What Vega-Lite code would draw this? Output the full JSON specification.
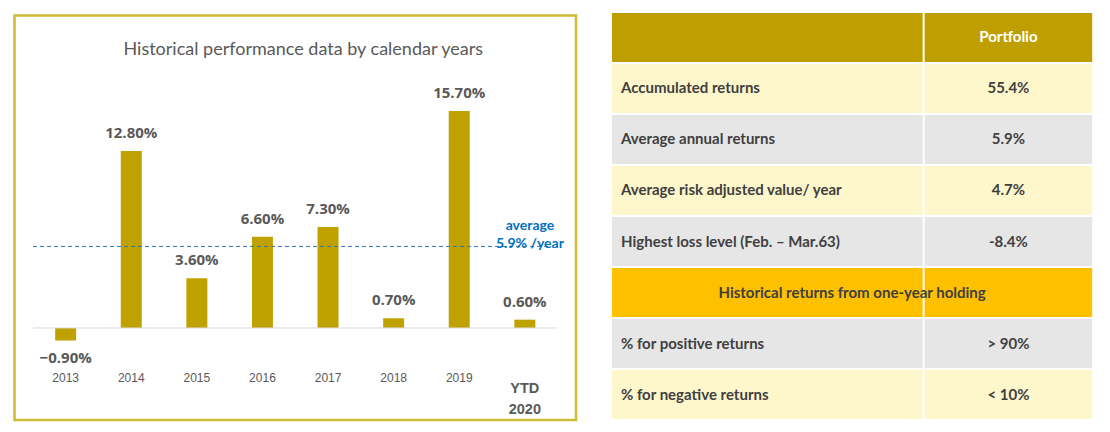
{
  "$schema": "https://vega.github.io/schema/vega-lite/v6.json",
  "autosize": {"type": "fit", "contains": "padding"},
  "width": 1110,
  "height": 432,
  "padding": 0,
  "view": {"stroke": null},
  "data": {
    "values": [
      {"year": "2013", "ret": -0.009},
      {"year": "2014", "ret": 0.128},
      {"year": "2015", "ret": 0.036},
      {"year": "2016", "ret": 0.066},
      {"year": "2017", "ret": 0.073},
      {"year": "2018", "ret": 0.007},
      {"year": "2019", "ret": 0.157},
      {"year": "YTD 2020", "ret": 0.006}
    ]
  },
  "resolve": {"scale": {"x": "independent", "y": "independent"}},
  "layer": [
    {
      "resolve": {"scale": {"x": "independent"}},
      "layer": [
        {
          "encoding": {
            "x": {
              "field": "year", "type": "nominal", "axis": null,
              "scale": {"range": [14.5, 576], "paddingInner": 0.68, "paddingOuter": 0.62}
            },
            "y": {
              "field": "ret", "type": "quantitative", "axis": null,
              "scale": {"domain": [-0.0666, 0.2261], "range": [420, 15.5], "nice": false, "zero": false}
            }
          },
          "layer": [
            {"mark": {"type": "bar", "color": "#BFA200"}},
            {
              "mark": {"type": "text", "font": "Open Sans", "fontSize": 15, "fontWeight": "bold", "color": "#595959", "baseline": "middle", "dy": -18},
              "encoding": {"text": {"condition": {"test": "datum.ret >= 0", "field": "ret", "type": "quantitative", "format": ".2%"}, "value": ""}}
            },
            {
              "mark": {"type": "text", "font": "Open Sans", "fontSize": 15, "fontWeight": "bold", "color": "#595959", "baseline": "middle", "dy": 18},
              "encoding": {"text": {"condition": {"test": "datum.ret < 0", "field": "ret", "type": "quantitative", "format": ".2%"}, "value": ""}}
            },
            {
              "mark": {"type": "text", "font": "Liberation Sans", "fontSize": 12, "color": "#595959", "baseline": "middle"},
              "encoding": {
                "y": {"datum": -0.0362, "type": "quantitative"},
                "text": {"condition": {"test": "datum.year != 'YTD 2020'", "field": "year", "type": "nominal"}, "value": ""}
              }
            },
            {
              "mark": {"type": "text", "font": "Liberation Sans", "fontSize": 14.5, "fontWeight": "bold", "color": "#595959", "baseline": "middle", "lineBreak": " ", "lineHeight": 21, "dy": 11},
              "encoding": {
                "y": {"datum": -0.0362, "type": "quantitative"},
                "text": {"condition": {"test": "datum.year == 'YTD 2020'", "field": "year", "type": "nominal"}, "value": ""}
              }
            }
          ]
        },
        {
          "layer": [
            {
              "data": {"values": [{"part": "frame"}]},
              "mark": {"type": "rect", "fill": "white", "fillOpacity": 0, "stroke": "#CFBB35", "strokeWidth": 2.5},
              "encoding": {
                "x": {"datum": 0, "type": "quantitative", "axis": null, "scale": {"domain": [0, 1], "range": [14.5, 576]}},
                "x2": {"datum": 1},
                "y": {"datum": -0.0666, "type": "quantitative"},
                "y2": {"datum": 0.2261}
              }
            },
            {
              "data": {"values": [{"title": "Historical performance data by calendar years"}]},
              "mark": {"type": "text", "font": "Lato", "fontSize": 18, "color": "#595959", "baseline": "middle", "dx": 8},
              "encoding": {
                "x": {"datum": 0.5, "type": "quantitative"},
                "y": {"datum": 0.2012, "type": "quantitative"},
                "text": {"field": "title", "type": "nominal"}
              }
            },
            {
              "data": {"values": [{"base": 0}]},
              "mark": {"type": "rule", "color": "#D9D9D9", "strokeWidth": 1},
              "encoding": {
                "x": {"datum": 0.033, "type": "quantitative"},
                "x2": {"datum": 0.966},
                "y": {"field": "base", "type": "quantitative"}
              }
            },
            {
              "data": {"values": [{"avg": 0.059, "note": "average\n5.9% /year"}]},
              "mark": {"type": "rule", "color": "#2E75B6", "strokeWidth": 1, "strokeDash": [4, 3]},
              "encoding": {
                "x": {"datum": 0.033, "type": "quantitative"},
                "x2": {"datum": 0.95},
                "y": {"field": "avg", "type": "quantitative"}
              }
            },
            {
              "data": {"values": [{"avg": 0.059, "note": "average\n5.9% /year"}]},
              "mark": {"type": "text", "font": "Lato", "fontSize": 14, "fontWeight": "bold", "color": "#0070C0", "lineBreak": "\n", "lineHeight": 18, "baseline": "middle", "dy": -20},
              "encoding": {
                "x": {"datum": 0.918, "type": "quantitative"},
                "y": {"field": "avg", "type": "quantitative"},
                "text": {"field": "note", "type": "nominal"}
              }
            }
          ]
        }
      ]
    },
    {
      "data": {
        "values": [
          {"row": 0, "metric": "", "portfolio": "Portfolio"},
          {"row": 1, "metric": "Accumulated returns", "portfolio": "55.4%"},
          {"row": 2, "metric": "Average annual returns", "portfolio": "5.9%"},
          {"row": 3, "metric": "Average risk adjusted value/ year", "portfolio": "4.7%"},
          {"row": 4, "metric": "Highest loss level (Feb. – Mar.63)", "portfolio": "-8.4%"},
          {"row": 5, "metric": "Historical returns from one-year holding", "portfolio": ""},
          {"row": 6, "metric": "% for positive returns", "portfolio": "> 90%"},
          {"row": 7, "metric": "% for negative returns", "portfolio": "< 10%"}
        ]
      },
      "encoding": {
        "y": {"field": "row", "type": "ordinal", "axis": null, "scale": {"range": [13, 419], "paddingInner": 0.04, "paddingOuter": 0}}
      },
      "layer": [
        {
          "mark": {"type": "rect"},
          "encoding": {
            "x": {"datum": 0, "type": "quantitative", "axis": null, "scale": {"domain": [0, 490], "range": [612, 1102]}},
            "x2": {"datum": 317},
            "color": {"condition": [{"test": "datum.row == 0", "value": "#BF9F00"}, {"test": "datum.row == 5", "value": "#FFC000"}, {"test": "datum.row % 2 == 1", "value": "#FFF7CC"}], "value": "#E7E6E6"}
          }
        },
        {
          "mark": {"type": "rect"},
          "encoding": {
            "x": {"datum": 319, "type": "quantitative"},
            "x2": {"datum": 490},
            "color": {"condition": [{"test": "datum.row == 0", "value": "#BF9F00"}, {"test": "datum.row == 5", "value": "#FFC000"}, {"test": "datum.row % 2 == 1", "value": "#FFF7CC"}], "value": "#E7E6E6"}
          }
        },
        {
          "mark": {"type": "text", "align": "left", "dx": 9, "font": "Lato", "fontSize": 15, "fontWeight": "bold", "color": "#404040"},
          "encoding": {
            "x": {"datum": 0, "type": "quantitative"},
            "text": {"condition": {"test": "datum.row != 5", "field": "metric", "type": "nominal"}, "value": ""}
          }
        },
        {
          "mark": {"type": "text", "font": "Lato", "fontSize": 15, "fontWeight": "bold", "color": "#404040"},
          "encoding": {
            "x": {"datum": 245, "type": "quantitative"},
            "text": {"condition": {"test": "datum.row == 5", "field": "metric", "type": "nominal"}, "value": ""}
          }
        },
        {
          "mark": {"type": "text", "font": "Lato", "fontSize": 15, "fontWeight": "bold"},
          "encoding": {
            "x": {"datum": 404.5, "type": "quantitative"},
            "text": {"field": "portfolio", "type": "nominal"},
            "color": {"condition": {"test": "datum.row == 0", "value": "white"}, "value": "#404040"}
          }
        }
      ]
    }
  ]
}
